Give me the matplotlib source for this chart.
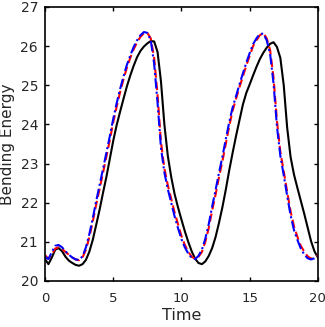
import numpy as np
import matplotlib
matplotlib.use('Agg')
import matplotlib.pyplot as plt

# time grid (every 0.25)
time = np.arange(0, 20.01, 0.25)

# solid black curve
black = [20.56, 20.43, 20.60, 20.80, 20.84, 20.76, 20.62, 20.52, 20.46, 20.41,
         20.39, 20.43, 20.54, 20.75, 21.05, 21.43, 21.82, 22.25, 22.66, 23.12,
         23.58, 23.98, 24.32, 24.65, 24.97, 25.25, 25.50, 25.72, 25.88, 25.99,
         26.07, 26.13, 26.12, 25.85, 25.10, 24.00, 23.20, 22.66, 22.22, 21.88,
         21.57, 21.27, 21.00, 20.76, 20.57, 20.46, 20.43, 20.50, 20.64, 20.84,
         21.12, 21.48, 21.88, 22.33, 22.82, 23.27, 23.70, 24.10, 24.50, 24.80,
         25.02, 25.25, 25.47, 25.67, 25.83, 25.96, 26.06, 26.10, 25.98, 25.70,
         25.00, 23.92, 23.17, 22.72, 22.38, 22.05, 21.72, 21.37, 21.02, 20.76,
         20.60]

# red dashed curve
red = [20.66, 20.57, 20.68, 20.83, 20.86, 20.82, 20.74, 20.67, 20.60, 20.55,
       20.53, 20.60, 20.80, 21.12, 21.52, 21.95, 22.35, 22.76, 23.18, 23.60,
       24.05, 24.45, 24.82, 25.15, 25.45, 25.70, 25.92, 26.10, 26.24, 26.33,
       26.34, 26.20, 25.70, 24.75, 23.55, 22.88, 22.45, 22.10, 21.75, 21.45,
       21.15, 20.92, 20.75, 20.62, 20.57, 20.62, 20.74, 21.00, 21.35, 21.80,
       22.20, 22.65, 23.05, 23.50, 23.95, 24.35, 24.65, 24.95, 25.22, 25.50,
       25.75, 26.00, 26.15, 26.28, 26.33, 26.20, 25.90, 25.20, 24.10, 23.30,
       22.80, 22.28, 21.78, 21.40, 21.13, 20.90, 20.75, 20.63, 20.57, 20.60,
       20.66]

# blue dash-dot curve
blue = [20.62, 20.56, 20.74, 20.90, 20.92, 20.86, 20.76, 20.67, 20.60, 20.55,
        20.54, 20.63, 20.86, 21.20, 21.60, 22.04, 22.45, 22.86, 23.28, 23.70,
        24.14, 24.54, 24.90, 25.22, 25.52, 25.76, 25.98, 26.15, 26.28, 26.36,
        26.34, 26.15, 25.55, 24.55, 23.40, 22.77, 22.35, 22.00, 21.65, 21.35,
        21.07, 20.86, 20.70, 20.59, 20.56, 20.64, 20.80, 21.08, 21.45, 21.90,
        22.32, 22.76, 23.17, 23.62, 24.05, 24.43, 24.72, 25.02, 25.30, 25.57,
        25.82, 26.05, 26.20, 26.31, 26.32, 26.15, 25.80, 25.05, 23.95, 23.20,
        22.70, 22.18, 21.68, 21.30, 21.05, 20.83, 20.68, 20.58, 20.55, 20.58,
        20.64]

txt = '#262626'

fig = plt.figure(figsize=(3.25, 3.27), dpi=100)
ax = fig.add_axes([0.1385, 0.1407, 0.8395, 0.8379])

ax.plot(time, black, color='black', lw=1.5, ls='-')
ax.plot(time, red, color='red', lw=1.5, ls=(0, (4, 2)))
ax.plot(time, blue, color='blue', lw=1.5, ls=(0, (5, 1.5, 1, 1.5)))

ax.set_xlim(0, 20)
ax.set_ylim(20, 27)
ax.set_xticks([0, 5, 10, 15, 20])
ax.set_yticks(range(20, 28))

ax.tick_params(direction='in', top=True, right=True, length=3, width=1,
               labelsize=10, colors='black', labelcolor=txt)
ax.tick_params(axis='x', pad=8, labelsize=9.5)
ax.tick_params(axis='y', pad=5)
for s in ax.spines.values():
    s.set_linewidth(1.2)
    s.set_color('black')

ax.set_xlabel('Time', fontsize=11.5, color=txt, labelpad=2)
ax.set_ylabel('Bending Energy', fontsize=11, color=txt, labelpad=4)

fig.savefig('out.png', dpi=100)
